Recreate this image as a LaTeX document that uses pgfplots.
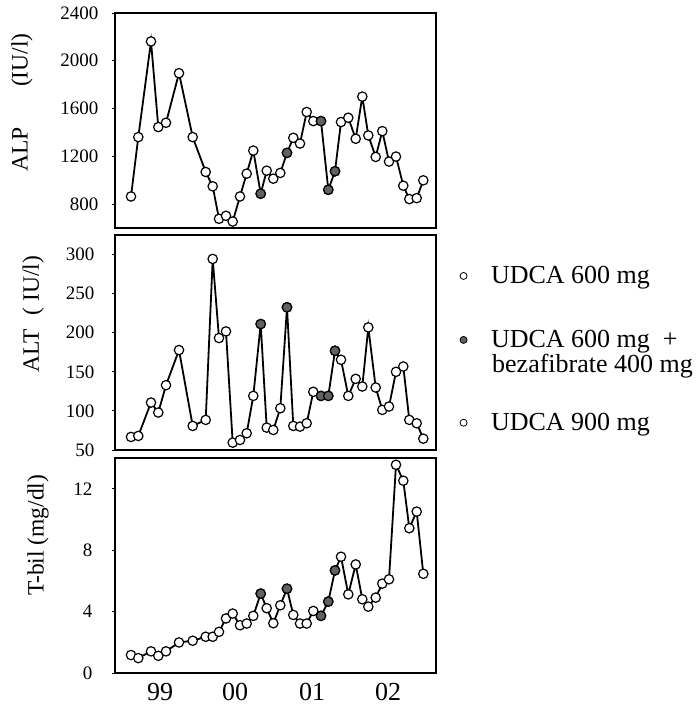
\documentclass[border=0pt]{standalone}
\usepackage{fontspec}
\setmainfont{Liberation Serif}
\usepackage{pgfplots}
\pgfplotsset{compat=1.18}
\definecolor{hatch}{gray}{0.38}
\pgfplotsset{
  panel/.style={
    scale only axis, width=321pt, height=215pt,
    xmin=115, xmax=436,
    axis line style={line width=1.3pt},
    tick align=outside, ytick pos=left, xtick pos=bottom,
    major tick length=3pt,
    tick style={line width=0.9pt,black},
    xtick=\empty,
    scaled y ticks=false,
    /pgf/number format/assume math mode=true,
    /pgf/number format/1000 sep={},
    yticklabel style={font=\fontsize{19}{22}\selectfont},
    ylabel style={font=\fontsize{23.5}{26}\selectfont, anchor=center},
    legend style={draw=none, fill=none, font=\fontsize{26}{30}\selectfont, anchor=west, /tikz/column sep=22pt},
  },
  ser/.style={black, line width=1.8pt, mark=*, mark size=4.7pt, mark options={fill=white, draw=black, line width=1.2pt}},
  dark/.style={only marks, mark=*, mark size=4.7pt, mark options={fill=hatch, draw=black, line width=1.2pt}},
  legopen/.style={only marks, mark=*, mark size=3.5pt, mark options={fill=white, draw=black, line width=0.8pt}},
  legdark/.style={only marks, mark=*, mark size=3.5pt, mark options={fill=hatch, draw=black, line width=0.8pt}},
}
\begin{document}
\begin{tikzpicture}[x=1pt,y=1pt]
\useasboundingbox (0,0) rectangle (697,707);
% ---------------- ALP ----------------
\begin{axis}[panel, at={(115pt,479pt)}, anchor=south west,
  ymin=600, ymax=2400, ytick={800,1200,1600,2000,2400},
  yticklabel style={xshift=-10pt},
  ylabel={ALP\hspace{40pt}(IU/l)},
  ylabel style={at={(axis description cs:-0.29,0.584)}},
  legend style={at={(axis description cs:1.065,-0.223)}}]
\addlegendimage{legopen}
\addlegendentry{UDCA 600 mg}
\addplot[ser] coordinates {(131.0,864) (138.3,1361) (151.0,2162) (158.3,1445) (166.0,1481) (179.0,1896) (192.7,1361) (205.7,1069) (212.7,949) (219.0,677) (226.0,702) (232.7,654) (240.0,864) (246.7,1055) (253.3,1248) (260.7,887) (266.7,1080) (273.3,1013) (280.3,1061) (287.0,1229) (293.3,1355) (300.0,1307) (306.7,1571) (313.3,1495) (321.0,1495) (328.3,920) (335.0,1075) (341.0,1487) (348.3,1523) (355.7,1347) (362.3,1700) (368.3,1375) (375.7,1195) (382.3,1411) (389.0,1156) (396.0,1198) (403.3,954) (409.3,842) (416.7,850) (423.3,999)};
\addplot[dark] coordinates {(260.7,887) (287.0,1229) (321.0,1495) (328.3,920) (335.0,1075)};
\end{axis}
% ---------------- ALT ----------------
\begin{axis}[panel, at={(115pt,257pt)}, anchor=south west,
  ymin=50, ymax=325, ytick={50,100,150,200,250,300},
  yticklabel style={xshift=-14pt},
  ylabel={ALT\hspace{14pt}( IU/l)},
  ylabel style={at={(axis description cs:-0.255,0.632)}},
  legend style={at={(axis description cs:1.065,0.512)}}]
\addlegendimage{legdark}
\addlegendentry{UDCA 600 mg \ +}
\addplot[ser] coordinates {(131.0,66.7) (138.3,68) (151.0,110.7) (158.3,97.9) (166.0,132.9) (179.0,177.8) (192.7,80.8) (205.7,88.5) (212.7,294.4) (219.0,193.2) (226.0,201.7) (232.7,59.4) (240.0,62.8) (246.7,71.4) (253.3,119.2) (260.7,211.1) (266.7,78.6) (273.3,75.6) (280.3,103.4) (287.0,232.5) (293.3,80.8) (300.0,79.9) (306.7,84.2) (313.3,124.4) (321.0,119.2) (328.3,119.2) (335.0,176.9) (341.0,165.4) (348.3,119.2) (355.7,141) (362.3,131.2) (368.3,206.8) (375.7,129.9) (382.3,101.3) (389.0,105.6) (396.0,150) (403.3,156.8) (409.3,88.5) (416.7,84.2) (423.3,64.5)};
\addplot[dark] coordinates {(260.7,211.1) (287.0,232.5) (321.0,119.2) (328.3,119.2) (335.0,176.9)};
\end{axis}
% ---------------- T-bil ----------------
\begin{axis}[panel, at={(115pt,34pt)}, anchor=south west,
  ymin=0, ymax=14, ytick={0,4,8,12},
  yticklabel style={xshift=-16pt},
  xtick={160,235,312,388}, xticklabels={99,00,01,02},
  xtick style={draw=none},
  xticklabel style={font=\fontsize{26}{28}\selectfont, yshift=-4pt},
  ylabel={T-bil (mg/dl)},
  ylabel style={at={(axis description cs:-0.24,0.64)}},
  legend style={at={(axis description cs:1.065,1.164)}}]
\addlegendimage{legopen}
\addlegendentry{UDCA 900 mg}
\addplot[ser] coordinates {(131.0,1.17) (138.3,0.97) (151.0,1.41) (158.3,1.12) (166.0,1.41) (179.0,1.99) (192.7,2.10) (205.7,2.36) (212.7,2.36) (219.0,2.68) (226.0,3.55) (232.7,3.87) (240.0,3.11) (246.7,3.22) (253.3,3.72) (260.7,5.17) (266.7,4.22) (273.3,3.24) (280.3,4.41) (287.0,5.49) (293.3,3.78) (300.0,3.22) (306.7,3.22) (313.3,4.04) (321.0,3.72) (328.3,4.65) (335.0,6.68) (341.0,7.57) (348.3,5.12) (355.7,7.07) (362.3,4.80) (368.3,4.32) (375.7,4.91) (382.3,5.82) (389.0,6.10) (396.0,13.56) (403.3,12.52) (409.3,9.43) (416.7,10.51) (423.3,6.46)};
\addplot[dark] coordinates {(260.7,5.17) (287.0,5.49) (321.0,3.72) (328.3,4.65) (335.0,6.68)};
\end{axis}
\node[anchor=base west, inner sep=0pt, font=\fontsize{26}{30}\selectfont] at (492,334) {bezafibrate 400 mg};
\end{tikzpicture}
\end{document}
